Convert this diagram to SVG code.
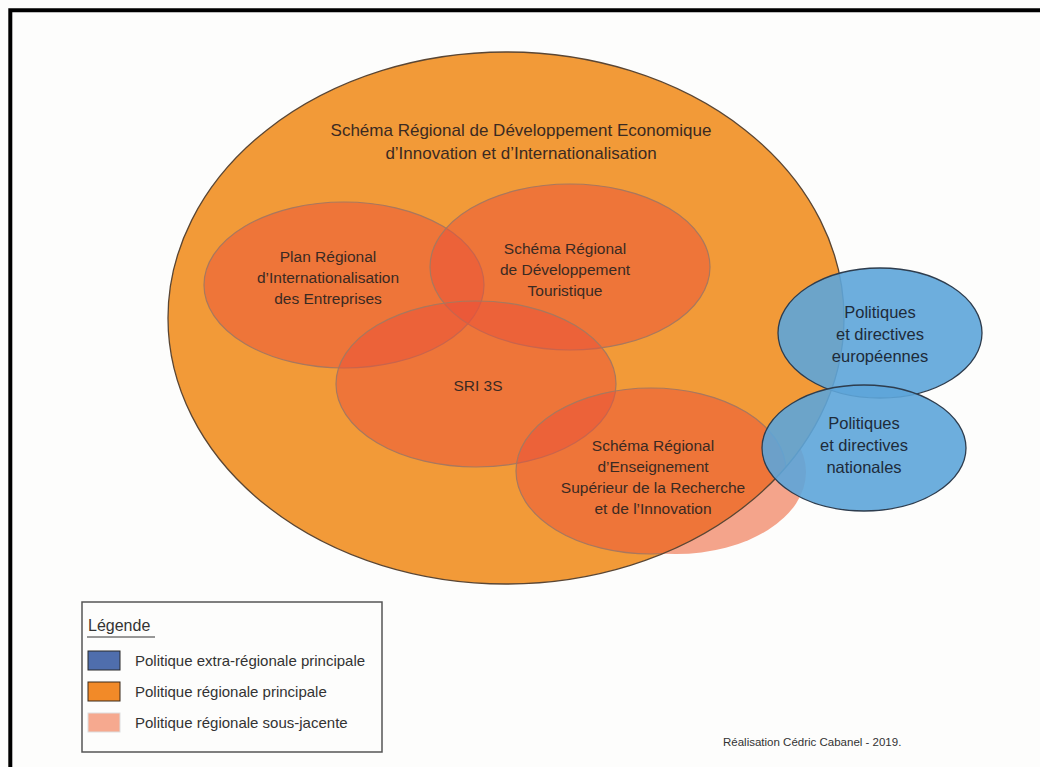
<svg xmlns="http://www.w3.org/2000/svg" width="1040" height="767" viewBox="0 0 1040 767">
<style>
.t{font-family:"Liberation Sans",Arial,sans-serif;fill:#3b2a22;text-anchor:middle}
.big{font-size:17px}
.mid{font-size:15.5px}
.blu{font-family:"Liberation Sans",Arial,sans-serif;font-size:16.5px;fill:#1e2b3a;text-anchor:middle}
.inner{fill:#E9503A;fill-opacity:0.5;stroke:#a8785e;stroke-width:1.2}
.blue{fill:#5DA5D9;fill-opacity:0.9;stroke:#2e3d4e;stroke-width:1.3}
.lg{font-family:"Liberation Sans",Arial,sans-serif;font-size:15px;fill:#333}
.lgh{font-family:"Liberation Sans",Arial,sans-serif;font-size:16px;fill:#333}
.cr{font-family:"Liberation Sans",Arial,sans-serif;font-size:11.5px;fill:#333}
</style>
<defs>
<clipPath id="inOrange"><ellipse cx="506" cy="318" rx="338" ry="266"/></clipPath>
</defs>
<rect x="0" y="0" width="1040" height="767" fill="#fdfdfc"/>
<path d="M10.3,767 V10.3 H1040" fill="none" stroke="#000" stroke-width="4"/>

<g id="sous-jacente">
<ellipse cx="676" cy="472" rx="130" ry="82" fill="#F4A48B"/>
</g>
<g id="srdeii">
<ellipse cx="506" cy="318" rx="338" ry="266" fill="#F29A38"/>
<text class="t big" x="521" y="136">Schéma Régional de Développement Economique</text>
<text class="t big" x="521" y="159">d’Innovation et d’Internationalisation</text>
</g>
<g id="prie">
<ellipse class="inner" cx="344" cy="285" rx="140" ry="83"/>
<text class="t mid" x="328" y="262">Plan Régional</text>
<text class="t mid" x="328" y="283">d’Internationalisation</text>
<text class="t mid" x="328" y="304">des Entreprises</text>
</g>
<g id="srdt">
<ellipse class="inner" cx="570" cy="267" rx="140" ry="83"/>
<text class="t mid" x="565" y="254">Schéma Régional</text>
<text class="t mid" x="565" y="275">de Développement</text>
<text class="t mid" x="565" y="296">Touristique</text>
</g>
<g id="sri3s">
<ellipse class="inner" cx="476" cy="384" rx="140" ry="83"/>
<text class="t mid" x="478" y="391">SRI 3S</text>
</g>
<g id="sresri">
<ellipse class="inner" cx="651" cy="471" rx="135" ry="83" clip-path="url(#inOrange)"/>
<text class="t mid" x="653" y="451">Schéma Régional</text>
<text class="t mid" x="653" y="472">d’Enseignement</text>
<text class="t mid" x="653" y="493">Supérieur de la Recherche</text>
<text class="t mid" x="653" y="514">et de l’Innovation</text>
</g>
<ellipse id="srdeii-outline" cx="506" cy="318" rx="338" ry="266" fill="none" stroke="#5a4634" stroke-width="1.3"/>
<g id="europeennes">
<ellipse class="blue" cx="880" cy="333" rx="102" ry="65"/>
<text class="blu" x="880" y="318">Politiques</text>
<text class="blu" x="880" y="340">et directives</text>
<text class="blu" x="880" y="362">européennes</text>
</g>
<g id="nationales">
<ellipse class="blue" cx="864" cy="448" rx="102" ry="63"/>
<text class="blu" x="864" y="429">Politiques</text>
<text class="blu" x="864" y="451">et directives</text>
<text class="blu" x="864" y="473">nationales</text>
</g>
<g id="connectors"/>

<g id="legende">
<rect x="82" y="602" width="300" height="150" fill="#fdfdfc" stroke="#555" stroke-width="1.5"/>
<text class="lgh" x="88" y="631">Légende</text>
<line x1="87" y1="637" x2="155" y2="637" stroke="#333" stroke-width="1"/>
<rect x="88" y="651" width="32" height="19" fill="#4F6EAD" stroke="#2a2a2a" stroke-width="1"/>
<text class="lg" x="135" y="666">Politique extra-régionale principale</text>
<rect x="88" y="682" width="32" height="19" fill="#F28A28" stroke="#3a2a1a" stroke-width="1"/>
<text class="lg" x="135" y="697">Politique régionale principale</text>
<rect x="88" y="713" width="32" height="19" fill="#F6A98F" stroke="#ddd" stroke-width="1"/>
<text class="lg" x="135" y="728">Politique régionale sous-jacente</text>
</g>
<g id="credit">
<text class="cr" x="723" y="746">Réalisation Cédric Cabanel - 2019.</text>
</g>
</svg>
